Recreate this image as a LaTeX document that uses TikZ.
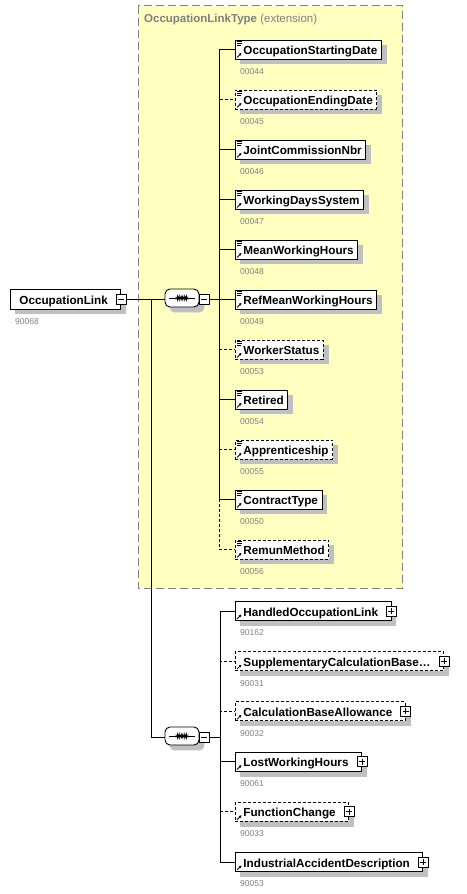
\documentclass[tikz,border=0pt]{standalone}
\usepackage{fontspec}
\setmainfont{Liberation Sans}
\usetikzlibrary{calc,arrows.meta}
\definecolor{extyellow}{RGB}{255,255,192}
\definecolor{extgray}{RGB}{128,128,128}
\definecolor{shadowgray}{RGB}{192,192,192}
\pgfdeclarelayer{ext}
\pgfdeclarelayer{shade}
\pgfsetlayers{ext,shade,main}
\tikzset{
  conn/.style={line width=.9pt},
  opt/.style={dash pattern=on 3pt off 2pt},
  elem/.style={draw, fill=white, line width=.9pt, anchor=west, minimum height=19pt,
    inner xsep=4pt, inner ysep=0pt, text height=12pt, text depth=2pt,
    font=\fontsize{11.7}{14}\selectfont\bfseries},
  num/.style={anchor=west, inner sep=0pt, text=extgray, font=\fontsize{8.5}{10}\selectfont},
  pm/.style={draw, fill=white, line width=.8pt, minimum size=10pt, inner sep=0pt},
  minusbox/.style={pm, path picture={
    \draw[line width=.8pt] ($(path picture bounding box.west)+(2,0)$) -- ($(path picture bounding box.east)+(-2,0)$);}},
  plusbox/.style={pm, path picture={
    \draw[line width=.8pt] ($(path picture bounding box.west)+(2,0)$) -- ($(path picture bounding box.east)+(-2,0)$);
    \draw[line width=.8pt] ($(path picture bounding box.north)+(0,2)$) -- ($(path picture bounding box.south)+(0,-2)$);}},
  seq/.style={draw, fill=white, line width=.9pt, rounded corners=5pt,
    minimum width=34pt, minimum height=18pt, inner sep=0pt,
    path picture={
      \draw[black, line width=.9pt] ($(path picture bounding box.west)+(4,0)$) -- ($(path picture bounding box.east)+(-4,0)$);
      \foreach \d in {-3.6,0,3.6} \fill[black] ($(path picture bounding box.center)+(\d-1.2,-1.2)$) rectangle +(2.4,2.4);}},
}
\newcommand{\shadebox}[2][0pt]{\begin{pgfonlayer}{shade}
  \fill[shadowgray, rounded corners=#1] ($(#2.north west)+(5,5)$) rectangle ($(#2.south east)+(5,5)$);
\end{pgfonlayer}}
\newcommand{\refarrow}[1]{\draw[line width=.8pt, -{Latex[length=2.5pt,width=3pt]}] ($(#1.south west)+(2,-2)$) -- +(4.5,-4.5);}
\newcommand{\typeicon}[1]{\foreach \k/\w in {2/4.5,4/4.5,6/3.5} \draw[line width=.7pt] ($(#1.north west)+(2,\k)$) -- +(\w,0);}

\begin{document}
\begin{tikzpicture}[x=1pt,y=-1pt]
\useasboundingbox (0,0) rectangle (466,894);
\begin{pgfonlayer}{ext}
\draw[extgray, fill=extyellow, line width=1pt, dash pattern=on 8pt off 4pt] (138,5.5) rectangle (402.5,588);
\end{pgfonlayer}
\node[anchor=west, inner sep=0pt, text=extgray, font=\fontsize{11.5}{14}\selectfont] (exttitle) at (144,19.5) {\textbf{OccupationLinkType} (extension)};

\node[elem, minimum height=20pt] (root) at (10,299) {\hspace*{5pt}OccupationLink\hspace*{9pt}};
\node[num] (nroot) at ($(root.south west)+(5,12)$) {90068};
\node[minusbox] (rootm) at (root.east) {};
\shadebox{root}

\node[seq] (seqA) at (182,298) {};
\node[minusbox] (seqAm) at ($(seqA.east)+(5,1)$) {};
\node[seq] (seqB) at (182,736) {};
\node[minusbox] (seqBm) at ($(seqB.east)+(5,1)$) {};
\shadebox[5pt]{seqA}
\shadebox[5pt]{seqB}

\foreach \name/\id/\st [count=\i] in {
  OccupationStartingDate/00044/solid, OccupationEndingDate/00045/opt,
  JointCommissionNbr/00046/solid, WorkingDaysSystem/00047/solid,
  MeanWorkingHours/00048/solid, RefMeanWorkingHours/00049/solid,
  WorkerStatus/00053/opt, Retired/00054/solid, Apprenticeship/00055/opt,
  ContractType/00050/solid, RemunMethod/00056/opt} {
  \node[elem,\st] (a\i) at (235,{-0.5+50*\i}) {\hspace*{4pt}\name};
  \node[num] (na\i) at ($(a\i.south west)+(5,12)$) {\id};
  \shadebox{a\i}
  \typeicon{a\i}
  \refarrow{a\i}
}

\foreach \name/\id/\st [count=\i] in {
  HandledOccupationLink/90162/solid, SupplementaryCalculationBase\ldots/90031/opt,
  CalculationBaseAllowance/90032/opt, LostWorkingHours/90061/solid,
  FunctionChange/90033/opt, IndustrialAccidentDescription/90053/solid} {
  \node[elem,\st] (b\i) at (235,{560.8+50.2*\i}) {\hspace*{4pt}\name\hspace*{9pt}};
  \node[num] (nb\i) at ($(b\i.south west)+(5,12)$) {\id};
  \node[plusbox] (pb\i) at (b\i.east) {};
  \shadebox{b\i}
  \refarrow{b\i}
}

\coordinate (busR) at (151,299);
\coordinate (busA) at (219,299);
\coordinate (busB) at (220,737);
\draw[conn] (rootm.east) -- (busR -| seqA.west);
\draw[conn] (busR) |- (seqB.west |- busB);
\draw[conn] (seqAm.east) -- (busA);
\draw[conn] (seqBm.east) -- (busB);
\foreach \i in {2,7,9,11} \draw[conn,opt] (busA) |- (a\i.west);
\foreach \i in {1,3,4,5,6,8,10} \draw[conn] (busA) |- (a\i.west);
\foreach \i in {2,3,5} \draw[conn,opt] (busB) |- (b\i.west);
\foreach \i in {1,4,6} \draw[conn] (busB) |- (b\i.west);
\end{tikzpicture}
\end{document}
